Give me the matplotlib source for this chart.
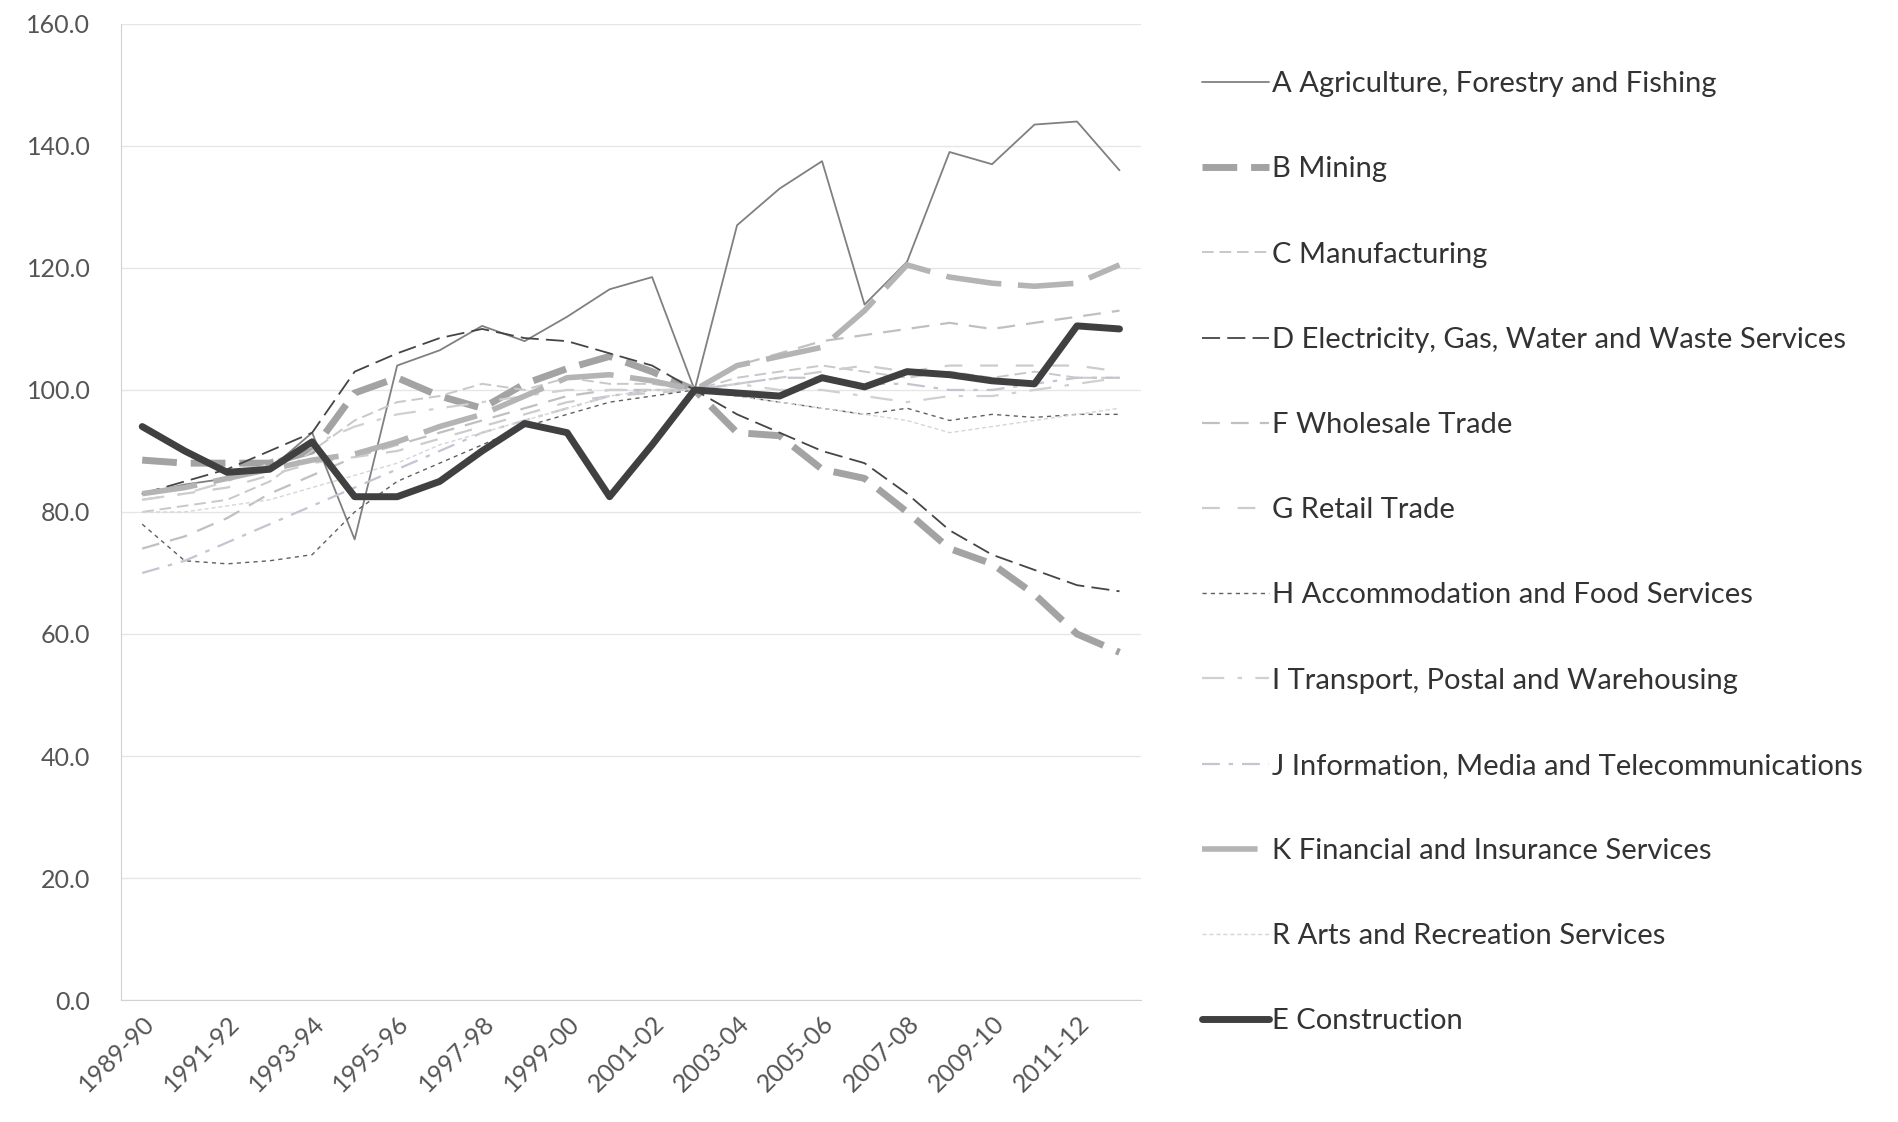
import matplotlib
matplotlib.use('Agg')
import matplotlib.pyplot as plt
import numpy as np

years = ['1989-90', '1990-91', '1991-92', '1992-93', '1993-94', '1994-95', '1995-96', '1996-97',
         '1997-98', '1998-99', '1999-00', '2000-01', '2001-02', '2002-03', '2003-04', '2004-05',
         '2005-06', '2006-07', '2007-08', '2008-09', '2009-10', '2010-11', '2011-12', '2012-13']

agriculture = [83, 84.5, 85.5, 87, 93, 75.5, 104, 106.5, 110.5, 108, 112, 116.5, 118.5, 100,
               127, 133, 137.5, 114, 121, 139, 137, 143.5, 144, 136]
mining = [88.5, 88, 88, 88, 90, 99.5, 102, 99, 97, 101, 103.5, 105.5, 103, 100,
          93, 92.5, 87, 85.5, 80, 74, 71.5, 66.5, 60, 57]
manufacturing = [80, 81, 82, 85, 90, 95, 98, 99, 101, 100, 102, 101, 101, 100,
                 102, 103, 104, 103, 102, 103, 102, 103, 102, 102]
electricity = [83, 85, 87, 90, 93, 103, 106, 108.5, 110, 108.5, 108, 106, 104, 100,
               96, 93, 90, 88, 83, 77, 73, 70.5, 68, 67]
wholesale = [74, 76, 79, 83, 86, 89, 91, 93, 95, 97, 99, 100, 100, 100,
             104, 106, 108, 109, 110, 111, 110, 111, 112, 113]
retail = [82, 83, 84, 86, 88, 89, 90, 92, 94, 96, 98, 99, 99.5, 100,
          101, 102, 103, 104, 103, 104, 104, 104, 104, 103]
accommodation = [78, 72, 71.5, 72, 73, 80, 85, 88, 91, 94, 96, 98, 99, 100,
                 99, 98, 97, 96, 97, 95, 96, 95.5, 96, 96]
transport = [82, 83, 85, 88, 91, 94, 96, 97, 98, 99, 100, 100, 100, 100,
             101, 100, 100, 99, 98, 99, 99, 100, 101, 102]
information = [70, 72, 75, 78, 81, 84, 87, 90, 93, 95, 97, 99, 100, 100,
               101, 102, 102, 101, 101, 100, 100, 101, 102, 102]
financial = [83, 84, 85.5, 87, 88.5, 89.5, 91.5, 94, 96, 99, 102, 102.5, 101.5, 100,
             104, 105.5, 107, 113, 120.5, 118.5, 117.5, 117, 117.5, 120.5]
arts = [80, 80, 81, 82, 84, 86, 88, 91, 93, 95, 97, 99, 100, 100,
        99, 98, 97, 96, 95, 93, 94, 95, 96, 97]
construction = [94, 90, 86.5, 87, 91.5, 82.5, 82.5, 85, 90, 94.5, 93, 82.5, 91, 100,
                99.5, 99, 102, 100.5, 103, 102.5, 101.5, 101, 110.5, 110]

plt.rcParams['font.family'] = ['Lato', 'DejaVu Sans']

fig = plt.figure(figsize=(18.99, 11.22), dpi=100)
ax = fig.add_axes([0.0637, 0.1087, 0.537, 0.870])
x = np.arange(len(years))

series = [
    ('A Agriculture, Forestry and Fishing', agriculture, '#808080', 1.3, None),
    ('B Mining', mining, '#a3a3a3', 5, (5, 2)),
    ('C Manufacturing', manufacturing, '#c8c8c8', 1.4, (6, 3)),
    ('D Electricity, Gas, Water and Waste Services', electricity, '#454545', 1.3, (10, 4)),
    ('F Wholesale Trade', wholesale, '#c0c0c0', 1.6, (8, 5)),
    ('G Retail Trade', retail, '#cccccc', 1.6, (8, 8)),
    ('H Accommodation and Food Services', accommodation, '#606060', 1.0, (3, 3)),
    ('I Transport, Postal and Warehousing', transport, '#d0d0d0', 1.6, (10, 6, 2, 6)),
    ('J Information, Media and Telecommunications', information, '#c4c4d2', 1.6, (8, 4, 2, 4)),
    ('K Financial and Insurance Services', financial, '#b4b4b4', 4, (10, 3)),
    ('R Arts and Recreation Services', arts, '#d6d6d6', 1.0, (3, 2)),
    ('E Construction', construction, '#404040', 5, None),
]

for name, vals, col, lw, ds in series:
    line, = ax.plot(x, vals, color=col, lw=lw, label=name, solid_capstyle='round')
    if ds is not None:
        line.set_dashes(ds)

ax.set_xlim(-0.5, 23.5)
ax.set_ylim(0, 160)
ax.set_yticks(np.arange(0, 161, 20))
ax.set_yticklabels(['%.1f' % v for v in np.arange(0, 161, 20)])
ax.set_xticks(x[::2])
ax.set_xticklabels(years[::2], rotation=45, ha='right', rotation_mode='anchor')
ax.tick_params(axis='both', length=0, labelsize=18, labelcolor='#555555')
ax.tick_params(axis='x', pad=8)
ax.tick_params(axis='y', pad=22)
ax.grid(axis='y', color='#e6e6e6', lw=1)
ax.set_axisbelow(True)
for s in ['top', 'right']:
    ax.spines[s].set_visible(False)
for s in ['left', 'bottom']:
    ax.spines[s].set_color('#d0d0d8')

fig.legend(loc='upper left', bbox_to_anchor=(0.619, 0.960), frameon=False,
           fontsize=21, handlelength=2.3, handletextpad=0.1, labelspacing=2.03,
           labelcolor='#333333')

fig.savefig('out.png', dpi=100, facecolor='white')
